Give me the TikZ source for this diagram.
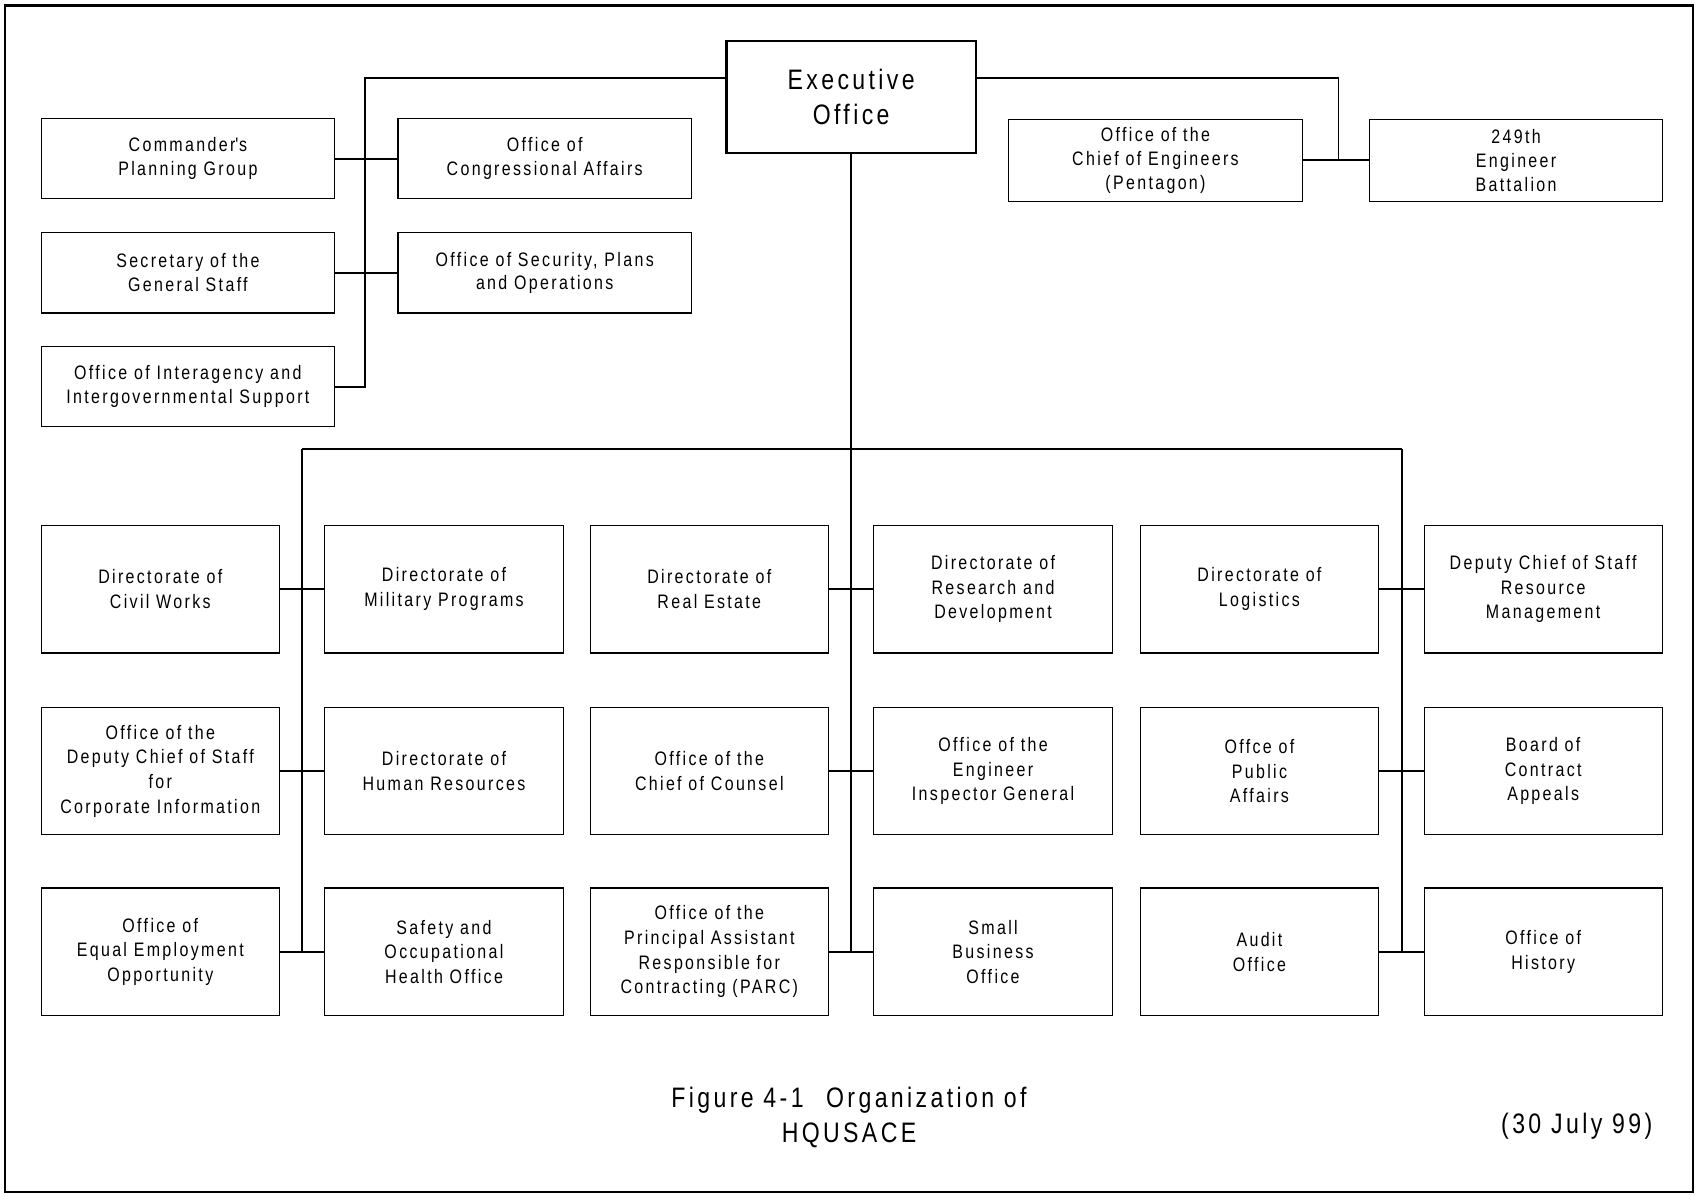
\documentclass[tikz,border=0pt]{standalone}
\usepackage{fontspec}
\setmainfont{Liberation Sans}[FakeStretch=0.82,LetterSpace=12]
\tikzset{
  staff/.style={draw, line width=1pt, minimum width=271pt, minimum height=74pt,
    inner sep=0pt, align=center, font=\fontsize{18}{22}\selectfont},
  unit/.style={draw, line width=1pt, minimum width=220pt, minimum height=118pt,
    inner sep=0pt, align=center, font=\fontsize{18}{22.8}\selectfont},
  conn/.style={line width=1.8pt},
}
\newcommand{\staffbox}[4]{
  \node[staff] (#1) at (#2,#3) {#4};
}
\newcommand{\unitbox}[4]{
  \node[unit] (#1#2) at (#3,\csname rowy#2\endcsname) {#4};
}
\expandafter\def\csname rowy1\endcsname{544}
\expandafter\def\csname rowy2\endcsname{712}
\expandafter\def\csname rowy3\endcsname{879}

\begin{document}
\begin{tikzpicture}[x=1pt,y=-1pt]

  \useasboundingbox (0,0) rectangle (1568,1104);
  \draw[line width=2pt] (5,5) rectangle (1563,1101);

  % EXECUTIVE OFFICE
  % ================

  \node[draw, line width=2.2pt, minimum width=230pt, minimum height=103pt,
    inner sep=0pt, align=center, font=\fontsize{26}{33}\selectfont]
    (exec) at (786,89.5) {Executive\\Office};

  % Staff offices
  % -------------

  \staffbox{cpg}{173.5}{146.5}{Commander\textquotesingle s\\Planning Group};
  \staffbox{oca}{503}{146.5}{Office of\\Congressional Affairs};
  \staffbox{sgs}{173.5}{252}{Secretary of the\\General Staff};
  \staffbox{ospo}{503}{252}{Office of Security, Plans\\and Operations};
  \staffbox{iis}{173.5}{357}{Office of Interagency and\\Intergovernmental Support};

  \node[staff, minimum height=76pt] (oce) at (1067,148) {Office of the\\Chief of Engineers\\(Pentagon)};
  \node[staff, minimum height=76pt] (eng) at (1400,148) {249th\\Engineer\\Battalion};

  \coordinate (tl) at (337,72);
  \coordinate (tr) at (1236,72);

  \draw[conn] (exec.west |- tl)--(tl)--(tl |- iis.east)--(iis.east);
  \draw[conn] (cpg.east)--(oca.west);
  \draw[conn] (sgs.east)--(ospo.west);

  \draw[conn] (exec.east |- tr)--(tr)--(tr |- oce.east);
  \draw[conn] (oce.east)--(eng.west);

  % DIRECTORATES AND OFFICES
  % ========================

  % Column 1
  \unitbox{1}{1}{148}{Directorate of\\Civil Works};
  \unitbox{1}{2}{148}{Office of the\\Deputy Chief of Staff\\for\\Corporate Information};
  \unitbox{1}{3}{148}{Office of\\Equal Employment\\Opportunity};

  % Column 2
  \unitbox{2}{1}{410}{Directorate of\\Military Programs};
  \unitbox{2}{2}{410}{Directorate of\\Human Resources};
  \unitbox{2}{3}{410}{Safety and\\Occupational\\Health Office};

  % Column 3
  \unitbox{3}{1}{655}{Directorate of\\Real Estate};
  \unitbox{3}{2}{655}{Office of the\\Chief of Counsel};
  \unitbox{3}{3}{655}{Office of the\\Principal Assistant\\Responsible for\\Contracting (PARC)};

  % Column 4
  \unitbox{4}{1}{917}{Directorate of\\Research and\\Development};
  \unitbox{4}{2}{917}{Office of the\\Engineer\\Inspector General};
  \unitbox{4}{3}{917}{Small\\Business\\Office};

  % Column 5
  \unitbox{5}{1}{1163}{Directorate of\\Logistics};
  \unitbox{5}{2}{1163}{Offce of\\Public\\Affairs};
  \unitbox{5}{3}{1163}{Audit\\Office};

  % Column 6
  \unitbox{6}{1}{1425}{Deputy Chief of Staff\\Resource\\Management};
  \unitbox{6}{2}{1425}{Board of\\Contract\\Appeals};
  \unitbox{6}{3}{1425}{Office of\\History};

  % Lines
  % -----

  \coordinate (busl) at (279,415);
  \coordinate (busr) at (1295,415);

  \draw[conn] (busl)--(busr);
  \draw[conn] (exec.south)--(exec.south |- 33.east);
  \draw[conn] (busl)--(busl |- 13.east);
  \draw[conn] (busr)--(busr |- 53.east);

  \foreach \y in {1, 2, 3}
  \foreach \a/\b in {1/2, 3/4, 5/6}
  \draw[conn] (\a\y.east)--(\b\y.west);

  % Caption
  % -------

  \node[align=center, font=\fontsize{26}{33}\selectfont] (title) at (784,1032)
    {Figure 4-1\hspace{0.8em}Organization of\\HQUSACE};
  \node[font=\fontsize{26}{30}\selectfont] (date) at (1456,1040) {(30 July 99)};

\end{tikzpicture}
\end{document}
